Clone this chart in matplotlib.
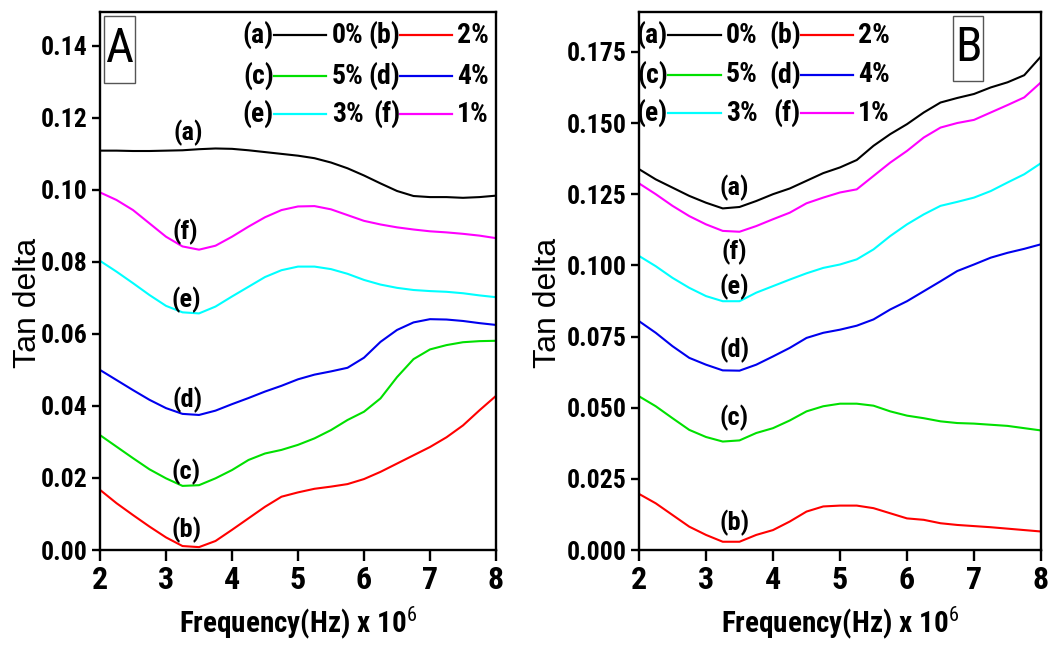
import matplotlib
matplotlib.use("Agg")
import matplotlib.pyplot as plt
from matplotlib.patches import Rectangle
from matplotlib.ticker import FormatStrFormatter, MultipleLocator

NARROW = ["Roboto Condensed", "Archivo Narrow", "Liberation Sans", "DejaVu Sans"]
plt.rcParams["font.family"] = NARROW
plt.rcParams["mathtext.fontset"] = "custom"
plt.rcParams["mathtext.rm"] = "Roboto Condensed"

# frequency axis (x 10^6 Hz), same sampling for both panels
freq = [2.0, 2.25, 2.5, 2.75, 3.0, 3.25, 3.5, 3.75, 4.0, 4.25, 4.5, 4.75, 5.0,
        5.25, 5.5, 5.75, 6.0, 6.25, 6.5, 6.75, 7.0, 7.25, 7.5, 7.75, 8.0]

keys = ["a", "b", "c", "d", "e", "f"]
percent = ["0%", "2%", "5%", "4%", "3%", "1%"]
colors = ["black", "red", "#00e000", "#0000ee", "cyan", "magenta"]

# Panel A: tan delta
tan_a = {
    "a": [0.1109, 0.1109, 0.1108, 0.1108, 0.1109, 0.1110, 0.1113, 0.1115, 0.1114, 0.1110, 0.1105,
          0.1100, 0.1095, 0.1088, 0.1076, 0.1060, 0.1040, 0.1018, 0.0997, 0.0983, 0.0980, 0.0980,
          0.0978, 0.0980, 0.0984],
    "b": [0.0167, 0.0130, 0.0097, 0.0065, 0.0035, 0.0011, 0.0008, 0.0025, 0.0056, 0.0088, 0.0120,
          0.0148, 0.0160, 0.0170, 0.0176, 0.0183, 0.0197, 0.0217, 0.0240, 0.0263, 0.0286, 0.0313,
          0.0346, 0.0388, 0.0428],
    "c": [0.0319, 0.0287, 0.0255, 0.0224, 0.0199, 0.0178, 0.0180, 0.0199, 0.0222, 0.0250, 0.0268,
          0.0278, 0.0292, 0.0310, 0.0333, 0.0361, 0.0384, 0.0421, 0.0480, 0.0530, 0.0557, 0.0569,
          0.0577, 0.0580, 0.0581],
    "d": [0.0500, 0.0472, 0.0444, 0.0417, 0.0394, 0.0378, 0.0375, 0.0387, 0.0405, 0.0422, 0.0440,
          0.0456, 0.0474, 0.0487, 0.0496, 0.0506, 0.0534, 0.0578, 0.0611, 0.0632, 0.0641, 0.0640,
          0.0636, 0.0630, 0.0625],
    "e": [0.0803, 0.0773, 0.0741, 0.0708, 0.0678, 0.0660, 0.0657, 0.0676, 0.0704, 0.0731, 0.0758,
          0.0777, 0.0787, 0.0787, 0.0780, 0.0767, 0.0750, 0.0737, 0.0728, 0.0722, 0.0719, 0.0717,
          0.0713, 0.0707, 0.0702],
    "f": [0.0993, 0.0972, 0.0944, 0.0907, 0.0870, 0.0843, 0.0834, 0.0845, 0.0870, 0.0898, 0.0924,
          0.0944, 0.0954, 0.0955, 0.0946, 0.0930, 0.0914, 0.0904, 0.0896, 0.0890, 0.0885, 0.0882,
          0.0878, 0.0873, 0.0866],
}

# Panel B: tan delta
tan_b = {
    "a": [0.1338, 0.1302, 0.1273, 0.1244, 0.1220, 0.1200, 0.1205, 0.1226, 0.1250, 0.1270, 0.1297,
          0.1324, 0.1344, 0.1370, 0.1420, 0.1461, 0.1496, 0.1537, 0.1572, 0.1588, 0.1602, 0.1625,
          0.1643, 0.1668, 0.1734],
    "b": [0.0197, 0.0164, 0.0123, 0.0082, 0.0053, 0.0029, 0.0029, 0.0053, 0.0070, 0.0100, 0.0135,
          0.0153, 0.0156, 0.0156, 0.0147, 0.0129, 0.0111, 0.0106, 0.0094, 0.0088, 0.0084, 0.0080,
          0.0075, 0.0070, 0.0065],
    "c": [0.0540, 0.0505, 0.0463, 0.0422, 0.0397, 0.0381, 0.0385, 0.0411, 0.0428, 0.0455, 0.0487,
          0.0505, 0.0514, 0.0514, 0.0507, 0.0487, 0.0472, 0.0463, 0.0452, 0.0446, 0.0444, 0.0440,
          0.0436, 0.0428, 0.0420],
    "d": [0.0804, 0.0763, 0.0716, 0.0675, 0.0651, 0.0631, 0.0630, 0.0651, 0.0680, 0.0710, 0.0745,
          0.0763, 0.0774, 0.0788, 0.0810, 0.0845, 0.0874, 0.0909, 0.0944, 0.0980, 0.1003, 0.1027,
          0.1044, 0.1058, 0.1074],
    "e": [0.1033, 0.0997, 0.0956, 0.0921, 0.0892, 0.0874, 0.0874, 0.0904, 0.0927, 0.0950, 0.0972,
          0.0991, 0.1003, 0.1021, 0.1056, 0.1103, 0.1144, 0.1179, 0.1209, 0.1223, 0.1238, 0.1261,
          0.1291, 0.1320, 0.1359],
    "f": [0.1288, 0.1250, 0.1209, 0.1173, 0.1144, 0.1121, 0.1118, 0.1138, 0.1162, 0.1185, 0.1218,
          0.1238, 0.1256, 0.1267, 0.1314, 0.1361, 0.1402, 0.1449, 0.1484, 0.1500, 0.1511, 0.1537,
          0.1563, 0.1590, 0.1643],
}

# curve tags (x, y) in data units
tags_a = {"a": (3.33, 0.1158), "f": (3.29, 0.0883), "e": (3.31, 0.0694),
          "d": (3.33, 0.0417), "c": (3.31, 0.0217), "b": (3.31, 0.0056)}
tags_b = {"a": (3.42, 0.1274), "f": (3.42, 0.1049), "e": (3.42, 0.0926),
          "d": (3.42, 0.0704), "c": (3.42, 0.0465), "b": (3.42, 0.0095)}


def draw_legend(ax, rows, cols):
    # rows: y positions, cols: (label right, line end, pct left) per column
    for i, key in enumerate(keys):
        r, c = divmod(i, 2)
        x0, x1, xp = cols[c]
        y = rows[r]
        ax.text(x0, y, f"({key})", transform=ax.transAxes, ha="right", va="center",
                fontsize=20, fontweight="bold")
        ax.plot([x0, x1], [y, y], transform=ax.transAxes, color=colors[i], lw=1.6,
                clip_on=False)
        ax.text(xp, y, percent[i], transform=ax.transAxes, ha="left", va="center",
                fontsize=20, fontweight="bold")


def style_axes(ax, ymax, step, fmt, label_x):
    ax.set_xlim(2, 8)
    ax.set_ylim(0, ymax)
    ax.xaxis.set_major_locator(MultipleLocator(1))
    ax.yaxis.set_major_locator(MultipleLocator(step))
    ax.yaxis.set_major_formatter(FormatStrFormatter(fmt))
    for s in ax.spines.values():
        s.set_linewidth(1.7)
    ax.tick_params(axis="y", direction="out", length=6, width=1.7, pad=3, labelsize=18.5)
    ax.tick_params(axis="x", direction="out", length=8, width=1.7, pad=3, labelsize=23)
    for t in ax.get_xticklabels() + ax.get_yticklabels():
        t.set_fontweight("bold")
    ax.set_xlabel("Frequency(Hz) x 10$^6$", fontsize=21, fontweight="bold")
    ax.xaxis.set_label_coords(0.5, -0.10)
    ax.set_ylabel("Tan delta", fontsize=23, family=["Liberation Sans", "DejaVu Sans"])
    ax.yaxis.set_label_coords(label_x, 0.46)


def panel_box(ax, letter, x0, x1, y0, y1):
    ax.add_patch(Rectangle((x0, y0), x1 - x0, y1 - y0, transform=ax.transAxes,
                           fill=False, edgecolor="#555555", lw=1.0))
    ax.text((x0 + x1) / 2, (y0 + y1) / 2, letter, transform=ax.transAxes,
            ha="center", va="center", fontsize=35)


fig = plt.figure(figsize=(10.56, 6.48), dpi=100)
ax_a = fig.add_axes([100 / 1056, 98 / 648, 396 / 1056, 538 / 648])
ax_b = fig.add_axes([639 / 1056, 98 / 648, 402 / 1056, 538 / 648])

for i, key in enumerate(keys):
    ax_a.plot(freq, tan_a[key], color=colors[i], lw=1.5)
    ax_b.plot(freq, tan_b[key], color=colors[i], lw=1.5)

for ax, tags in ((ax_a, tags_a), (ax_b, tags_b)):
    for key, (tx, ty) in tags.items():
        ax.text(tx, ty, f"({key})", ha="center", va="center", fontsize=19,
                fontweight="bold")

style_axes(ax_a, 0.1494, 0.02, "%.2f", -0.145)
style_axes(ax_b, 0.189, 0.025, "%.3f", -0.19)

draw_legend(ax_a, [0.957, 0.881, 0.810],
            [(0.439, 0.571, 0.586), (0.758, 0.889, 0.902)])
draw_legend(ax_b, [0.957, 0.883, 0.812],
            [(0.072, 0.204, 0.216), (0.403, 0.532, 0.545)])

panel_box(ax_a, "A", 0.010, 0.088, 0.868, 0.993)
panel_box(ax_b, "B", 0.781, 0.856, 0.872, 0.993)

fig.savefig("out.png", dpi=100)
